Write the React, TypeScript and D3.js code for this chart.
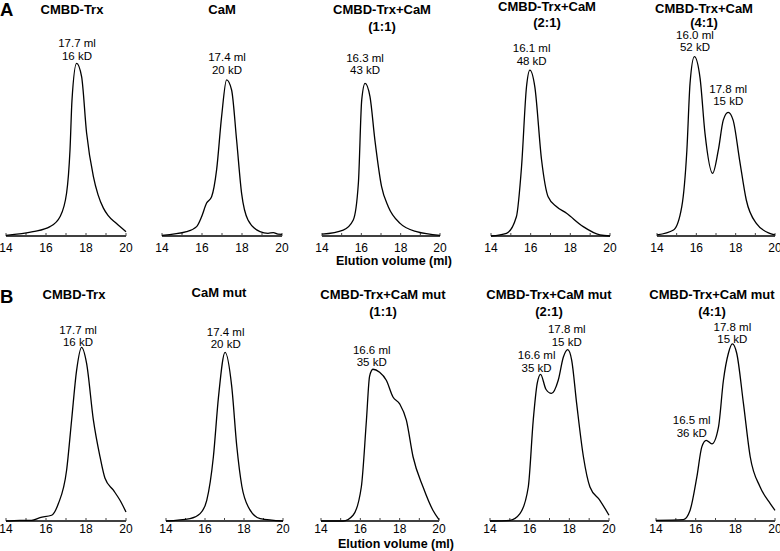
import React from "react";
import * as d3 from "d3";

// ---------- data (elution volume in ml, absorbance in arbitrary units) ----------
const xTicks = [14, 15, 16, 17, 18, 19, 20];
const xTickLabels = [14, 16, 18, 20];

const a1: [number, number][] = [[14, 0.4], [15.35, 2.4], [16.2, 5.2], [16.7, 10.7], [17.03, 23.9], [17.2, 47.8], [17.3, 75.6], [17.53, 95.9], [17.78, 88.5], [18.03, 57.2], [18.37, 33], [18.6, 23], [18.87, 15.5], [19.1, 11.5], [19.5, 7.2], [19.8, 4.3], [20, 2.4]];
const a2: [number, number][] = [[14, 0.4], [15.23, 2.4], [15.73, 5.2], [15.98, 10.7], [16.23, 18.3], [16.48, 21.8], [16.73, 36.7], [16.98, 66.3], [17.23, 86.7], [17.48, 81.1], [17.73, 53.3], [17.98, 23.7], [18.3, 8.9], [18.9, 2.4], [19.3, 1.5], [19.57, 1.9], [19.8, 1.0], [20, 0.9]];
const a3: [number, number][] = [[14, 1.0], [15.08, 3.3], [15.59, 8.9], [15.85, 29.4], [16.02, 75.6], [16.19, 84.8], [16.44, 77.4], [16.69, 53.3], [17.03, 27.4], [17.37, 16.3], [17.97, 7.0], [18.81, 2.4], [20, 0.4]];
const a4: [number, number][] = [[14, 0], [14.78, 1.5], [15.28, 10.7], [15.54, 38.5], [15.79, 82.9], [15.96, 92.2], [16.21, 82.9], [16.55, 42.2], [16.88, 21.8], [17.31, 16.3], [17.81, 12.6], [18.65, 5.2], [19.49, 0.6], [20, 0]];
const a5: [number, number][] = [[14, 0.6], [14.84, 3.3], [15.26, 16.3], [15.52, 47.8], [15.68, 84.8], [15.9, 99.6], [16.19, 87.7], [16.44, 57], [16.83, 34.8], [17.12, 47.8], [17.37, 64.4], [17.62, 68.7], [17.87, 64.4], [18.2, 42.2], [18.54, 20], [19.05, 7.0], [19.73, 1.5], [20, 0.6]];

const b1: [number, number][] = [[14, 0], [14.7, 0.4], [15.28, 0.4], [15.7, 1.9], [16.28, 3.2], [16.62, 9.7], [17.03, 28.2], [17.28, 56], [17.53, 83.7], [17.78, 96.5], [18.03, 87.6], [18.37, 56], [18.7, 35.7], [18.95, 23.7], [19.37, 17.1], [19.7, 11.5], [20, 5.0]];
const b2: [number, number][] = [[14, 0], [15.23, 1.3], [15.75, 4.1], [16.09, 11.5], [16.43, 35.7], [16.69, 68.7], [17.03, 93.7], [17.37, 74.8], [17.63, 41.5], [17.89, 19.3], [18.23, 7.6], [18.83, 1.3], [20, 0]];
const b3: [number, number][] = [[14, 0], [15.12, 0], [15.63, 3.2], [16.05, 18.9], [16.31, 56], [16.47, 80.4], [16.64, 84.3], [16.98, 82.6], [17.32, 78.2], [17.66, 68.9], [18, 65.1], [18.34, 56], [18.68, 35.7], [19.19, 18.9], [19.69, 6.0], [20, 0.8]];
const b4: [number, number][] = [[14, 0], [15.01, 0.4], [15.51, 4.1], [15.93, 18.9], [16.18, 56], [16.38, 76.4], [16.55, 81.5], [16.82, 73.2], [17.1, 70.9], [17.44, 78.2], [17.7, 91.1], [17.92, 95.2], [18.12, 89.3], [18.37, 65.2], [18.71, 35.7], [19.04, 18.9], [19.54, 11.5], [20, 3.2]];
const b5: [number, number][] = [[14, 0.4], [15.38, 0.8], [15.72, 6], [16.06, 24.5], [16.31, 41.2], [16.53, 44.8], [16.82, 42.9], [17.15, 52.2], [17.4, 78.2], [17.65, 93.2], [17.85, 98.4], [18.07, 93.2], [18.41, 65.2], [18.75, 35.7], [19.25, 18.9], [19.76, 9.6], [20, 5.9]];

const titlesA = [["CMBD-Trx"], ["CaM"], ["CMBD-Trx+CaM", "(1:1)"], ["CMBD-Trx+CaM", "(2:1)"], ["CMBD-Trx+CaM", "(4:1)"]];
const titlesB = [["CMBD-Trx"], ["CaM mut"], ["CMBD-Trx+CaM mut", "(1:1)"], ["CMBD-Trx+CaM mut", "(2:1)"], ["CMBD-Trx+CaM mut", "(4:1)"]];

// peak annotations: [x (ml), y (a.u.), volume text, mass text]
type Ann = [number, number, string, string];
const annA: Ann[][] = [
  [[17.55, 107.2, "17.7 ml", "16 kD"]],
  [[17.25, 99.4, "17.4 ml", "20 kD"]],
  [[16.19, 98.9, "16.3 ml", "43 kD"]],
  [[16.05, 104.4, "16.1 ml", "48 kD"]],
  [[15.93, 111.7, "16.0 ml", "52 kD"], [17.62, 81.7, "17.8 ml", "15 kD"]],
];
const annB: Ann[][] = [
  [[17.6, 106.3, "17.7 ml", "16 kD"]],
  [[17.06, 105.2, "17.4 ml", "20 kD"]],
  [[16.58, 95.2, "16.6 ml", "35 kD"]],
  [[16.35, 92.1, "16.6 ml", "35 kD"], [17.87, 106.5, "17.8 ml", "15 kD"]],
  [[17.85, 107.8, "17.8 ml", "15 kD"], [15.8, 55.9, "16.5 ml", "36 kD"]],
];

const seriesA = [a1, a2, a3, a4, a5];
const seriesB = [b1, b2, b3, b4, b5];

// ---------- layout ----------
const FONT = "'Liberation Sans', Arial, Helvetica, sans-serif";
const rows = [
  {
    letter: "A", letterY: 16, axisY: 236, titleY: 13.5, tickDY: 15.5,
    xRanges: [[6, 126], [162, 282], [322, 440], [491, 610], [657, 775]],
    titleX: [72, 222, 382, 547, 704], titleDY: [0, 0, 0, -3, -1], titleGap: [17, 17, 17, 16.5, 14],
    xlabelX: 394, xlabelY: 265,
    series: seriesA, titles: titlesA, ann: annA,
  },
  {
    letter: "B", letterY: 303, axisY: 521, titleY: 299, tickDY: 12,
    xRanges: [[6, 126], [166, 283], [321, 439], [490, 609], [656, 775]],
    titleX: [74, 219, 383, 549, 712], titleDY: [0, -2, 0, 0, 0], titleGap: [17, 17, 17, 17, 17],
    xlabelX: 396, xlabelY: 548,
    series: seriesB, titles: titlesB, ann: annB,
  },
];
const H = 180; // pixels for 100 a.u.

export default function App() {
  return (
    <svg width={780} height={551} style={{ position: "absolute", left: 0, top: 0, background: "#fff" }}
      fontFamily={FONT}>
      <rect width={780} height={551} fill="#fff" />
      {rows.map((row, ri) => (
        <g key={ri}>
          <text x={0} y={row.letterY} fontSize={18.5} fontWeight="bold">{row.letter}</text>
          <text x={row.xlabelX} y={row.xlabelY} fontSize={12.5} fontWeight="bold" textAnchor="middle">Elution volume (ml)</text>
          {row.series.map((data, pi) => {
            const x = d3.scaleLinear().domain([14, 20]).range(row.xRanges[pi]);
            const y = d3.scaleLinear().domain([0, 100]).range([row.axisY, row.axisY - H]);
            const line = d3.line<[number, number]>().x(d => x(d[0])).y(d => y(d[1])).curve(d3.curveMonotoneX);
            const t = row.titles[pi];
            const ty = row.titleY + row.titleDY[pi];
            return (
              <g key={pi}>
                {t.map((s, k) => (
                  <text key={k} x={row.titleX[pi]} y={ty + k * row.titleGap[pi]} fontSize={13} fontWeight="bold" textAnchor="middle">{s}</text>
                ))}
                <line x1={x(14)} x2={x(20)} y1={row.axisY} y2={row.axisY} stroke="#000" strokeWidth={1.5} />
                {xTicks.map(v => (
                  <line key={v} x1={x(v)} x2={x(v)} y1={row.axisY} y2={row.axisY - 3} stroke="#444" strokeWidth={1} />
                ))}
                {xTickLabels.map(v => (
                  <text key={v} x={x(v)} y={row.axisY + row.tickDY} fontSize={12} textAnchor="middle">{v}</text>
                ))}
                <path d={line(data) || ""} fill="none" stroke="#000" strokeWidth={1.3} />
                {row.ann[pi].map((a, k) => (
                  <g key={k}>
                    <text x={x(a[0])} y={y(a[1]) + 4} fontSize={11.5} textAnchor="middle">{a[2]}</text>
                    <text x={x(a[0])} y={y(a[1]) + 16.5} fontSize={11.5} textAnchor="middle">{a[3]}</text>
                  </g>
                ))}
              </g>
            );
          })}
        </g>
      ))}
    </svg>
  );
}
